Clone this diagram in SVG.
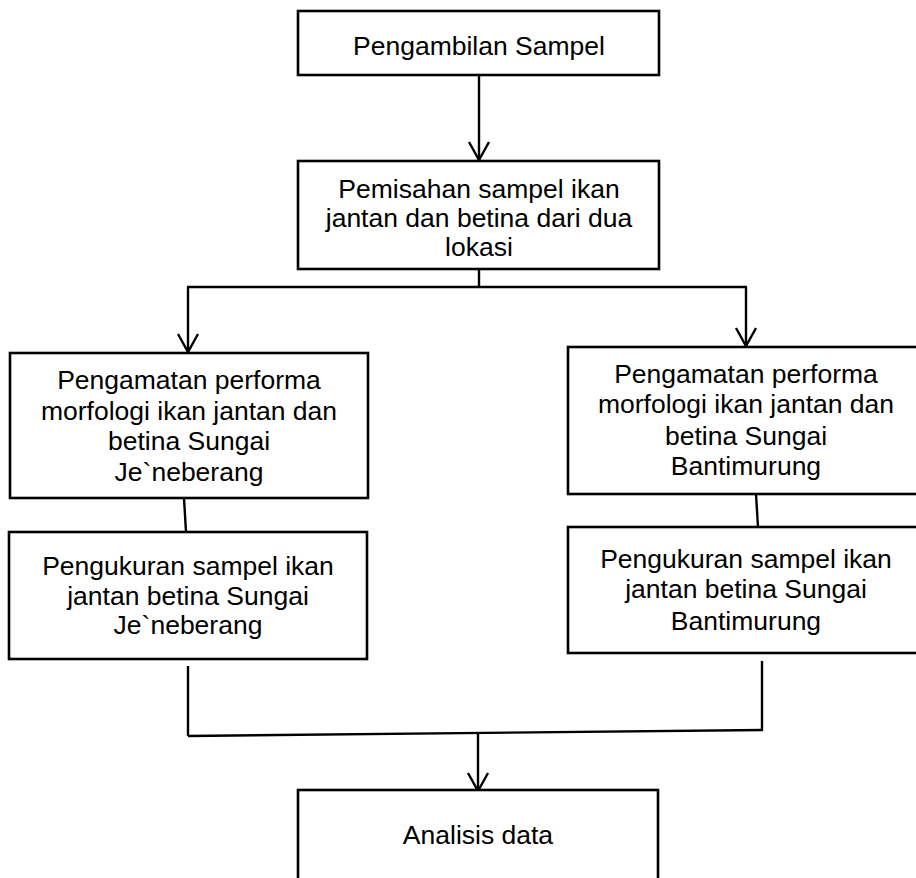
<svg xmlns="http://www.w3.org/2000/svg" width="916" height="878" viewBox="0 0 916 878">
<style>
.box{fill:#fff;stroke:#000;stroke-width:2.6}
.t{font-family:"Liberation Sans",Arial,sans-serif;font-size:26.5px;fill:#000;text-anchor:middle}
.ln{fill:none;stroke:#000;stroke-width:2.4}
.ah{fill:none;stroke:#000;stroke-width:2.4}
</style>
<rect width="916" height="878" fill="#fff"/>
<g id="connectors">
<line class="ln" x1="479" y1="75" x2="479" y2="160"/>
<polyline class="ah" points="469,142 479,160 489,142"/>
<line class="ln" x1="479" y1="269" x2="479" y2="287"/>
<line class="ln" x1="187" y1="287" x2="747" y2="287"/>
<line class="ln" x1="188" y1="287" x2="188" y2="352"/>
<polyline class="ah" points="178,334 188,352 198,334"/>
<line class="ln" x1="746" y1="287" x2="746" y2="346"/>
<polyline class="ah" points="736,328 746,346 756,328"/>
<line class="ln" x1="184" y1="498" x2="186" y2="532"/>
<line class="ln" x1="756" y1="494" x2="758" y2="527"/>
<line class="ln" x1="188" y1="666" x2="188" y2="736"/>
<line class="ln" x1="762" y1="661" x2="762" y2="731"/>
<line class="ln" x1="188" y1="736" x2="763" y2="730"/>
<line class="ln" x1="478" y1="734" x2="478" y2="791"/>
<polyline class="ah" points="468,773 478,791 488,773"/>
</g>
<g id="n1">
<rect class="box" x="298" y="11" width="361" height="64"/>
<text class="t" x="479" y="55">Pengambilan Sampel</text>
</g>
<g id="n2">
<rect class="box" x="298" y="161" width="361" height="108"/>
<text class="t" x="479" y="198">Pemisahan sampel ikan</text>
<text class="t" x="479" y="227">jantan dan betina dari dua</text>
<text class="t" x="479" y="256">lokasi</text>
</g>
<g id="n3">
<rect class="box" x="10" y="353" width="358" height="145"/>
<text class="t" x="189" y="389">Pengamatan performa</text>
<text class="t" x="189" y="419.5">morfologi ikan jantan dan</text>
<text class="t" x="189" y="450">betina Sungai</text>
<text class="t" x="189" y="480.5">Je`neberang</text>
</g>
<g id="n4">
<rect class="box" x="9" y="532" width="358" height="127"/>
<text class="t" x="188" y="575">Pengukuran sampel ikan</text>
<text class="t" x="188" y="604.5">jantan betina Sungai</text>
<text class="t" x="188" y="634">Je`neberang</text>
</g>
<g id="n5">
<rect class="box" x="568" y="347" width="356" height="147"/>
<text class="t" x="746" y="383">Pengamatan performa</text>
<text class="t" x="746" y="413">morfologi ikan jantan dan</text>
<text class="t" x="746" y="445">betina Sungai</text>
<text class="t" x="746" y="475">Bantimurung</text>
</g>
<g id="n6">
<rect class="box" x="568" y="527" width="356" height="126"/>
<text class="t" x="746" y="568">Pengukuran sampel ikan</text>
<text class="t" x="746" y="598">jantan betina Sungai</text>
<text class="t" x="746" y="630">Bantimurung</text>
</g>
<g id="n7">
<rect class="box" x="298" y="790" width="360" height="100"/>
<text class="t" x="478" y="844">Analisis data</text>
</g>
</svg>
